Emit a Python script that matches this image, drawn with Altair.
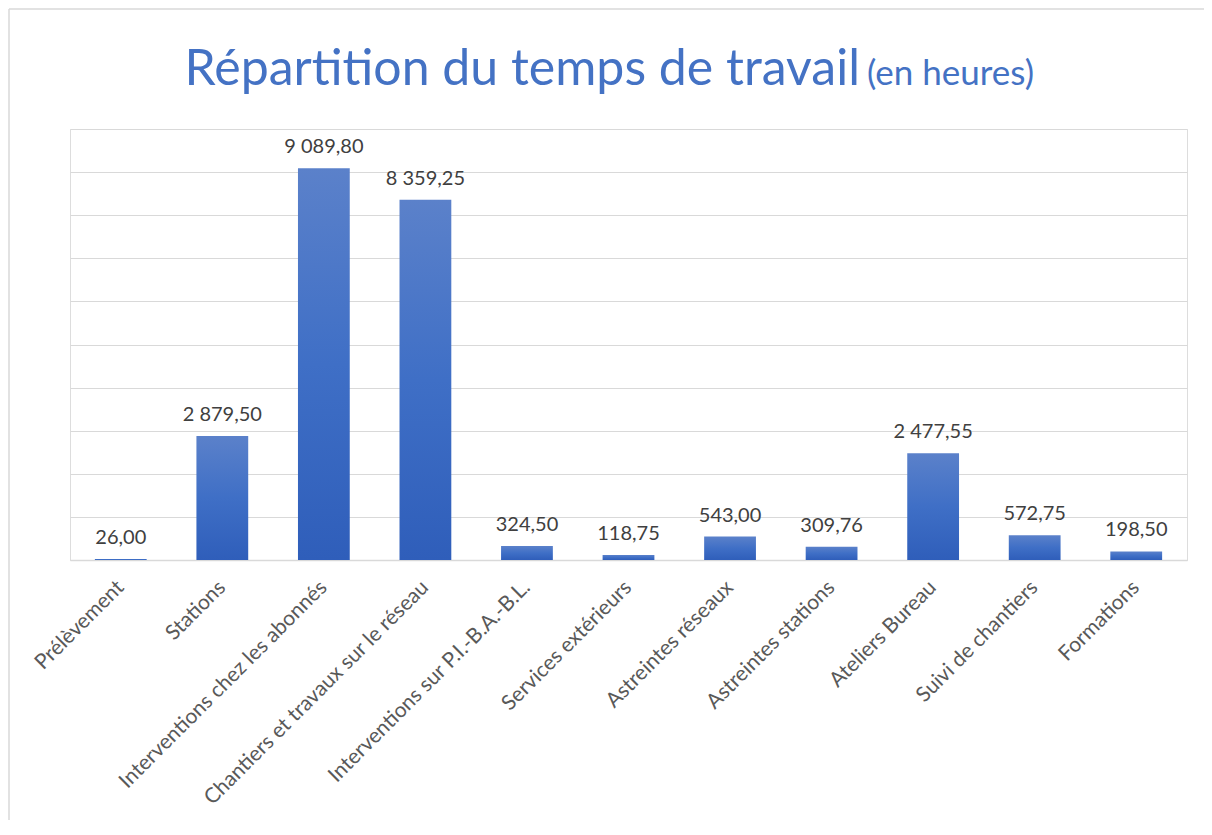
import altair as alt
import pandas as pd

categories = [
    "Prélèvement", "Stations", "Interventions chez les abonnés",
    "Chantiers et travaux sur le réseau", "Interventions sur P.I.-B.A.-B.L.",
    "Services extérieurs", "Astreintes réseaux", "Astreintes stations",
    "Ateliers Bureau", "Suivi de chantiers", "Formations",
]
hours = [26.00, 2879.50, 9089.80, 8359.25, 324.50, 118.75, 543.00, 309.76,
         2477.55, 572.75, 198.50]
y_ticks = [0, 1000, 2000, 3000, 4000, 5000, 6000, 7000, 8000, 9000, 10000]

title_main = "Répartition du temps de travail"
title_sub = "(en heures)"

df = pd.DataFrame({"cat": categories, "h": hours})

FONT = "Lato"
W, H = 1117, 431

x_enc = alt.X("cat:N", sort=categories, title=None,
              scale=alt.Scale(paddingInner=0.49, paddingOuter=0.245),
              axis=alt.Axis(labelAngle=-45, labelAlign="right", labelBaseline="middle",
                            labelFontSize=21, labelColor="#595959", labelFont=FONT,
                            labelPadding=24, ticks=False, domainColor="#d9d9d9",
                            domainWidth=1.5, labelLimit=500))
y_enc = alt.Y("h:Q", title=None,
              scale=alt.Scale(domain=[0, 10000], nice=False),
              axis=alt.Axis(values=y_ticks, labels=False, ticks=False, domain=False,
                            gridColor="#d9d9d9", gridWidth=1.2))

grad = alt.Gradient(
    gradient="linear",
    stops=[alt.GradientStop(color="#5b81ca", offset=0),
           alt.GradientStop(color="#3f6fc6", offset=0.5),
           alt.GradientStop(color="#2f5eba", offset=1)],
    x1=0, x2=0, y1=0, y2=1,
)

base = alt.Chart(df)
bars = base.mark_bar(color=grad).encode(x=x_enc, y=y_enc)
labels = base.transform_calculate(
    lab="replace(replace(format(datum.h, ',.2f'), ',', ' '), '.', ',')"
).mark_text(dy=-15, baseline="alphabetic", fontSize=20, font=FONT, color="#404040").encode(
    x=alt.X("cat:N", sort=categories), y="h:Q", text="lab:N")

tdf = pd.DataFrame({"a": [title_main], "b": [title_sub]})
t1 = alt.Chart(tdf).mark_text(align="right", baseline="alphabetic", fontSize=50,
                              font=FONT, color="#4472c4").encode(
    x=alt.value(790), y=alt.value(-44), text="a:N")
t2 = alt.Chart(tdf).mark_text(align="left", baseline="alphabetic", fontSize=35,
                              font=FONT, color="#4472c4").encode(
    x=alt.value(797), y=alt.value(-44), text="b:N")
frame_top = alt.Chart(tdf).mark_rule(color="#d9d9d9", strokeWidth=1.5).encode(
    x=alt.value(-61), x2=alt.value(1400), y=alt.value(-120))
frame_left = alt.Chart(tdf).mark_rule(color="#d9d9d9", strokeWidth=1.5).encode(
    x=alt.value(-61), y=alt.value(-120), y2=alt.value(900))

chart = alt.layer(frame_top, frame_left, bars, labels, t1, t2).properties(
    width=W, height=H,
    autosize=alt.AutoSizeParams(type="none"),
    padding={"left": 62, "top": 121, "right": 17, "bottom": 260},
).configure_view(stroke=None).configure(background="white")

chart.save("out.html", embed_options={"renderer": "svg", "actions": False})
